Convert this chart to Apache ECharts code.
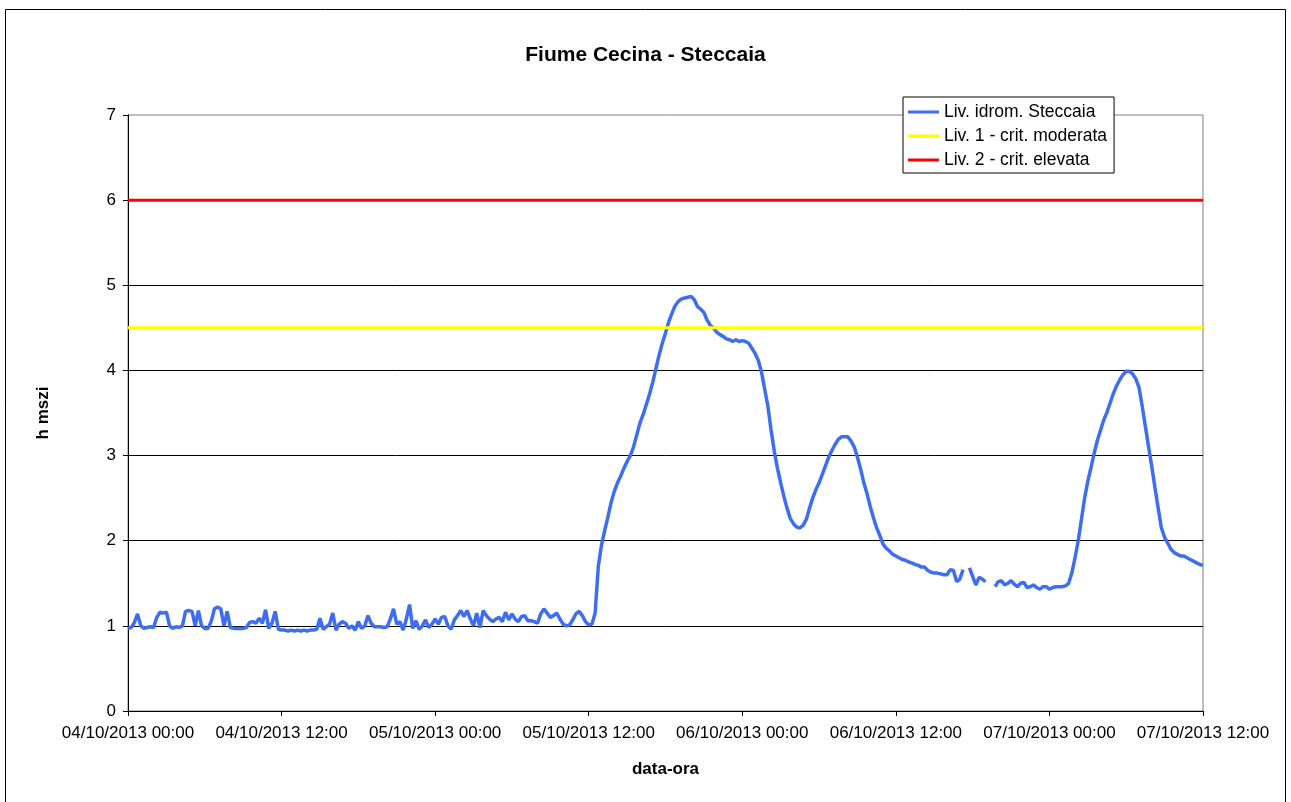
<!DOCTYPE html>
<html lang="it" style="height: 100%">
<head>
    <meta charset="utf-8">
    <style>
        body { margin: 0; background: #fff; }
        #container { width: 1291px; height: 802px; }
    </style>
</head>
<body>
<div id="container"></div>

<script type="text/javascript" src="https://fastly.jsdelivr.net/npm/echarts@6/dist/echarts.min.js"></script>
<script type="text/javascript">
    // letture ogni 15 minuti a partire dal 04/10/2013 00:00
    var startTime = Date.UTC(2013, 9, 4, 0, 0);
    var endTime = Date.UTC(2013, 9, 7, 12, 0);
    var stepMinutes = 15;

    // Liv. idrom. Steccaia (m), null = dato mancante
    var livello = [
        0.97, 0.98, 1.04, 1.14, 1.0, 0.97, 0.98, 0.99, 0.98, 1.1, 1.16, 1.15, 1.16, 1.0, 0.97, 0.99,
        0.98, 1.0, 1.17, 1.18, 1.17, 1.0, 1.18, 1.0, 0.97, 0.97, 1.05, 1.2, 1.22, 1.2, 1.0, 1.17, 0.98,
        0.97, 0.97, 0.97, 0.97, 0.98, 1.04, 1.05, 1.03, 1.09, 1.03, 1.19, 0.97, 1.03, 1.17, 0.96, 0.95,
        0.95, 0.94, 0.95, 0.94, 0.95, 0.94, 0.95, 0.94, 0.95, 0.95, 0.96, 1.09, 0.96, 0.99, 1.02, 1.15,
        0.95, 1.02, 1.05, 1.03, 0.97,
        1.0, 0.95, 1.05, 0.97, 1.0, 1.12, 1.03, 0.99, 0.99, 0.99, 0.98, 0.99, 1.08, 1.2, 1.02, 1.05,
        0.95, 1.08, 1.25, 0.97, 1.06, 0.96, 1.0, 1.07, 0.98, 1.02, 1.08, 1.02, 1.1, 1.11, 1.0, 0.96,
        1.07, 1.12, 1.18, 1.11, 1.18, 1.08, 1.0, 1.15, 0.98, 1.18, 1.12, 1.08, 1.05, 1.08, 1.1, 1.05,
        1.16, 1.07, 1.14, 1.08, 1.05, 1.11, 1.12, 1.06, 1.06, 1.05, 1.03, 1.14, 1.2, 1.15, 1.1, 1.12,
        1.15, 1.08, 1.02, 1.0, 1.01, 1.07, 1.14, 1.17, 1.12, 1.05, 1.01, 1.02, 1.15,
        1.7, 1.95, 2.12, 2.28, 2.45, 2.58, 2.68, 2.76, 2.85, 2.93, 3.0, 3.1, 3.24, 3.38, 3.48, 3.6,
        3.72, 3.86, 4.02, 4.18, 4.32, 4.44, 4.57, 4.67, 4.76, 4.81, 4.84, 4.85, 4.86, 4.87, 4.83, 4.75,
        4.72, 4.68, 4.59, 4.53, 4.5, 4.45, 4.42, 4.4, 4.37, 4.36, 4.34, 4.36, 4.34, 4.35, 4.34, 4.32,
        4.26, 4.2, 4.12, 3.98, 3.78, 3.58, 3.3, 3.05, 2.85, 2.68, 2.52, 2.38, 2.26, 2.2, 2.16, 2.15,
        2.18, 2.25, 2.38, 2.5, 2.6, 2.68, 2.78, 2.88, 2.98, 3.06, 3.13, 3.19, 3.22, 3.22, 3.22, 3.17,
        3.1, 2.98, 2.84, 2.68, 2.55, 2.4, 2.27, 2.15, 2.06, 1.96, 1.91, 1.88, 1.84, 1.82,
        1.8, 1.78, 1.77, 1.75, 1.74, 1.72, 1.71, 1.69, 1.69, 1.65, 1.63, 1.62, 1.62, 1.61, 1.6, 1.6,
        1.66, 1.65, 1.52, 1.55, 1.66, null, 1.68, 1.58, 1.48, 1.57, 1.55, 1.52, null, null, 1.46, 1.52,
        1.53, 1.48, 1.5, 1.53, 1.49, 1.46, 1.5, 1.51, 1.45, 1.46, 1.48, 1.45, 1.43, 1.46, 1.46, 1.43,
        1.45, 1.46, 1.46, 1.46, 1.47, 1.5, 1.62, 1.8, 2.0, 2.25, 2.5, 2.7, 2.86, 3.03, 3.18, 3.3,
        3.42, 3.51, 3.62, 3.73, 3.82, 3.89, 3.95, 3.99, 3.99, 3.96, 3.9, 3.8, 3.58, 3.34, 3.1, 2.87,
        2.62, 2.38, 2.15, 2.04, 1.97, 1.9, 1.86, 1.84, 1.82, 1.82, 1.8, 1.78, 1.76, 1.74, 1.72, 1.71
    ];

    // soglie di criticità
    var soglia1 = 4.5;   // Liv. 1 - crit. moderata
    var soglia2 = 6;     // Liv. 2 - crit. elevata

    var nomi = ['Liv. idrom. Steccaia', 'Liv. 1 - crit. moderata', 'Liv. 2 - crit. elevata'];
    var colori = ['#3d6ef2', '#ffff00', '#ff0000'];

    var serieLivello = livello.map(function (v, i) {
        return [startTime + i * stepMinutes * 60000, v];
    });

    function pad(n) { return (n < 10 ? '0' : '') + n; }
    function formatData(ms) {
        var d = new Date(ms);
        return pad(d.getUTCDate()) + '/' + pad(d.getUTCMonth() + 1) + '/' + d.getUTCFullYear() +
            ' ' + pad(d.getUTCHours()) + ':' + pad(d.getUTCMinutes());
    }

    var font = 'Liberation Sans, Arial, sans-serif';
    var myChart = echarts.init(document.getElementById('container'));

    var option = {
        animation: false,
        backgroundColor: '#fff',
        textStyle: { fontFamily: font },
        title: {
            text: 'Fiume Cecina - Steccaia',
            left: 'center',
            top: 40,
            textStyle: { fontSize: 21, fontWeight: 'bold', color: '#000', fontFamily: font }
        },
        graphic: [{
            type: 'rect',
            shape: { x: 5.5, y: 9.5, width: 1280, height: 800 },
            style: { fill: 'none', stroke: '#000', lineWidth: 1 },
            silent: true
        }],
        legend: {
            orient: 'vertical',
            left: 903,
            top: 97,
            padding: [6, 7, 4, 5],
            itemGap: 6,
            itemWidth: 31,
            itemHeight: 3,
            icon: 'rect',
            backgroundColor: '#fff',
            borderColor: '#000',
            borderWidth: 1,
            borderRadius: 0,
            textStyle: { fontSize: 17.5, color: '#000', fontFamily: font },
            data: nomi
        },
        grid: {
            left: 128,
            right: 88,
            top: 115,
            bottom: 91,
            show: true,
            borderColor: '#808080',
            borderWidth: 1,
            containLabel: false
        },
        xAxis: {
            type: 'value',
            min: startTime,
            max: endTime,
            interval: 12 * 3600 * 1000,
            name: 'data-ora',
            nameLocation: 'middle',
            nameGap: 50,
            nameTextStyle: { fontSize: 17, fontWeight: 'bold', color: '#000' },
            axisLine: { lineStyle: { color: '#000', width: 1 } },
            axisTick: { show: true, length: 5, lineStyle: { color: '#000' } },
            axisLabel: { fontSize: 17, color: '#000', margin: 14, formatter: formatData },
            splitLine: { show: false }
        },
        yAxis: {
            type: 'value',
            min: 0,
            max: 7,
            interval: 1,
            name: 'h mszi',
            nameLocation: 'middle',
            nameGap: 76,
            nameTextStyle: { fontSize: 17, fontWeight: 'bold', color: '#000' },
            axisLine: { show: true, lineStyle: { color: '#000', width: 1 } },
            axisTick: { show: true, length: 5, lineStyle: { color: '#000' } },
            axisLabel: { fontSize: 17, color: '#000', margin: 12 },
            splitLine: { show: true, showMaxLine: false, lineStyle: { color: '#000', width: 1 } }
        },
        series: [
            {
                name: nomi[0],
                type: 'line',
                data: serieLivello,
                showSymbol: false,
                connectNulls: false,
                lineStyle: { color: colori[0], width: 3.5 },
                itemStyle: { color: colori[0] }
            },
            {
                name: nomi[1],
                type: 'line',
                data: [[startTime, soglia1], [endTime, soglia1]],
                showSymbol: false,
                lineStyle: { color: colori[1], width: 3 },
                itemStyle: { color: colori[1] }
            },
            {
                name: nomi[2],
                type: 'line',
                data: [[startTime, soglia2], [endTime, soglia2]],
                showSymbol: false,
                lineStyle: { color: colori[2], width: 3 },
                itemStyle: { color: colori[2] }
            }
        ]
    };

    myChart.setOption(option);
    window.addEventListener('resize', myChart.resize);
</script>
</body>
</html>
